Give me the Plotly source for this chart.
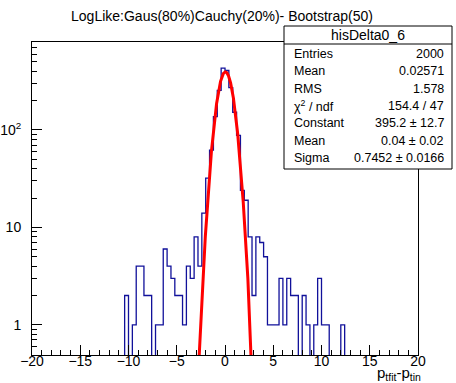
import numpy as np
import plotly.graph_objects as go

# ---------------- data ----------------
title_text = "LogLike:Gaus(80%)Cauchy(20%)- Bootstrap(50)"
hist_name = "hisDelta0_6"
x_title = "p<sub>tfit</sub>-p<sub>tin</sub>"

n_bins = 100
x_low, x_high = -20.0, 20.0
counts = [
    0, 0, 0, 0, 0, 0, 0, 0, 0, 0,            # -20 .. -16
    0, 0, 0, 0, 0, 0, 0, 0, 0, 0,            # -16 .. -12
    0, 0, 0, 0, 2, 0, 1, 4, 4, 2,            # -12 .. -8
    2, 0, 1, 1, 6, 4, 3, 2, 2, 1,            # -8 .. -4
    4, 3, 8, 4, 14, 32, 62, 137, 255, 432,   # -4 .. 0
    408, 272, 152, 88, 24, 19, 8, 2, 8, 7,   # 0 .. 4
    5, 1, 1, 1, 3, 1, 3, 2, 2, 0,            # 4 .. 8
    2, 1, 0, 1, 3, 1, 1, 0, 0, 0,            # 8 .. 12
    1, 0, 0, 0, 0, 0, 0, 0, 0, 0,            # 12 .. 16
    0, 0, 0, 0, 0, 0, 0, 0, 0, 0,            # 16 .. 20
]

fit_constant = 395.2
fit_mean = 0.04
fit_sigma = 0.7452

stat_labels = ["Entries", "Mean", "RMS", "\u03c7<sup>2</sup> / ndf", "Constant", "Mean", "Sigma"]
stat_values = ["2000", "0.02571", "1.578", "154.4 / 47", "395.2 \u00b1 12.7", "0.04 \u00b1 0.02", "0.7452 \u00b1 0.0166"]

x_tick_vals = [-20, -15, -10, -5, 0, 5, 10, 15, 20]
x_tick_text = ["\u221220", "\u221215", "\u221210", "\u22125", "0", "5", "10", "15", "20"]
y_tick_vals = [1, 10, 100]
y_tick_text = ["1", "10", "10<sup>2</sup>"]
y_minor_vals = [0.5, 0.6, 0.7, 0.8, 0.9, 2, 3, 4, 5, 6, 7, 8, 9,
                20, 30, 40, 50, 60, 70, 80, 90, 200, 300, 400, 500, 600, 700, 800]
y_min, y_max = 0.49, 800.0

# ---------------- layout geometry ----------------
W, H = 456, 383
L, R, T, B = 32, 38, 42, 28
FONT = "Liberation Sans, Arial, Helvetica, sans-serif"
BLUE = "#11119a"
RED = "#ff0000"


def px_x(px):
    return (px - L) / (W - L - R)


def px_y(py):
    return (H - B - py) / (H - T - B)


# ---------------- histogram outline ----------------
edges = np.linspace(x_low, x_high, n_bins + 1)
floor = y_min * 1e-3
draw_counts = [c if c > 0 else floor for c in counts]
hx = [edges[0]] + list(edges[:-1]) + [edges[-1], edges[-1]]
hy = [floor] + draw_counts + [draw_counts[-1], floor]

fig = go.Figure()
fig.add_trace(go.Scatter(x=hx, y=hy, mode="lines", line=dict(color=BLUE, width=1.3, shape="hv"),
                         hoverinfo="skip", showlegend=False))

# fitted gaussian
fx = np.linspace(-4.0, 4.0, 801)
fy = fit_constant * np.exp(-0.5 * ((fx - fit_mean) / fit_sigma) ** 2)
fig.add_trace(go.Scatter(x=fx, y=fy, mode="lines", line=dict(color=RED, width=3),
                         hoverinfo="skip", showlegend=False))

fig.update_layout(
    width=W, height=H, autosize=False,
    margin=dict(l=L, r=R, t=T, b=B, pad=0, autoexpand=False),
    paper_bgcolor="white", plot_bgcolor="white",
    font=dict(family=FONT, color="black", size=14),
    hovermode=False,
    title=dict(text=title_text, x=222 / W, xanchor="center",
               y=1 - 16 / H, yanchor="middle", font=dict(size=14, family=FONT, color="black")),
    xaxis=dict(range=[x_low, x_high], showgrid=False, zeroline=False, automargin=False,
               showline=True, mirror=True, linecolor="black", linewidth=1,
               tickmode="array", tickvals=x_tick_vals, ticktext=x_tick_text,
               ticks="inside", ticklen=10, tickcolor="black", tickwidth=1,
               ticklabelstandoff=-7,
               minor=dict(ticks="inside", ticklen=5, dtick=1, tick0=0, tickcolor="black"),
               tickfont=dict(size=14, family=FONT, color="black")),
    yaxis=dict(type="log", range=[np.log10(y_min), np.log10(y_max)], showgrid=False, zeroline=False,
               automargin=False,
               showline=True, mirror=True, linecolor="black", linewidth=1,
               tickmode="array", tickvals=y_tick_vals, ticktext=y_tick_text,
               ticks="inside", ticklen=10, tickcolor="black", tickwidth=1,
               ticklabelstandoff=7,
               minor=dict(ticks="inside", ticklen=5, tickmode="array", tickvals=y_minor_vals, tickcolor="black"),
               tickfont=dict(size=14, family=FONT, color="black")),
)

# stats box
bx0, bx1, by0, by1, bsep = 284, 452, 26, 169, 44
shapes = [
    dict(type="rect", xref="paper", yref="paper", x0=px_x(bx0), x1=px_x(bx1), y0=px_y(by1), y1=px_y(by0),
         line=dict(color="black", width=1), fillcolor="white", layer="above"),
    dict(type="line", xref="paper", yref="paper", x0=px_x(bx0), x1=px_x(bx1), y0=px_y(bsep), y1=px_y(bsep),
         line=dict(color="black", width=1), layer="above"),
]
fig.update_layout(shapes=shapes)

annots = [dict(text=hist_name, xref="paper", yref="paper", x=px_x((bx0 + bx1) / 2), y=px_y(35),
               xanchor="center", yanchor="middle", showarrow=False, font=dict(size=14, family=FONT))]
row_y0, row_dy = 54, 17.3
for i, (lab, val) in enumerate(zip(stat_labels, stat_values)):
    yy = px_y(row_y0 + i * row_dy)
    annots.append(dict(text=lab, xref="paper", yref="paper", x=px_x(292), y=yy, xanchor="left",
                       yanchor="middle", showarrow=False, font=dict(size=12.5, family=FONT)))
    annots.append(dict(text=val, xref="paper", yref="paper", x=px_x(446), y=yy, xanchor="right",
                       yanchor="middle", showarrow=False, font=dict(size=12.5, family=FONT)))

annots.append(dict(text=x_title, xref="paper", yref="paper", x=px_x(423), y=px_y(373),
                   xanchor="right", yanchor="middle", showarrow=False, font=dict(size=15, family=FONT)))
fig.update_layout(annotations=annots)

fig.write_html("out.html", config={"displayModeBar": False, "staticPlot": True},
               post_script="document.body.style.margin='0px';document.body.style.overflow='hidden';")
